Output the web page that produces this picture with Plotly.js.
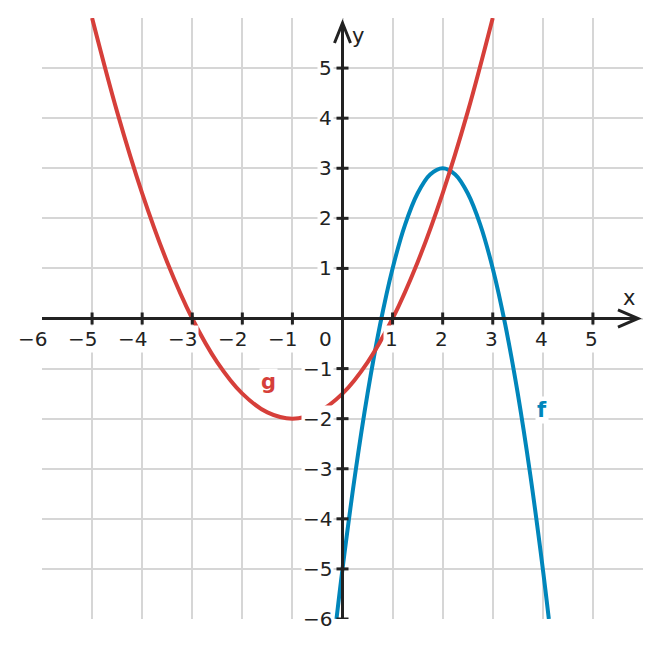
<!DOCTYPE html>
<html>
<head>
<meta charset="utf-8">
<script src="https://cdn.plot.ly/plotly-3.0.1.min.js"></script>
<style>html,body{margin:0;padding:0;background:#fff;}#chart{width:661px;height:648px;}</style>
</head>
<body>
<div id="chart"></div>
<script>
// Values
const fX = [-0.12, 0, 0.25, 0.5, 0.75, 1, 1.25, 1.5, 1.75, 2, 2.25, 2.5, 2.75, 3, 3.25, 3.5, 3.75, 4, 4.12];
const fY = [-6, -5, -3.125, -1.5, -0.125, 1, 1.875, 2.5, 2.875, 3, 2.875, 2.5, 1.875, 1, -0.125, -1.5, -3.125, -5, -6];
const gX = [-5, -4.5, -4, -3.5, -3, -2.5, -2, -1.5, -1, -0.5, 0, 0.5, 1, 1.5, 2, 2.5, 3];
const gY = [6, 4.125, 2.5, 1.125, 0, -0.875, -1.5, -1.875, -2, -1.875, -1.5, -0.875, 0, 1.125, 2.5, 4.125, 6];
const xTicks = [-6, -5, -4, -3, -2, -1, 1, 2, 3, 4, 5];
const yTicks = [-6, -5, -4, -3, -2, -1, 1, 2, 3, 4, 5];
const fLabel = {text: 'f', x: 3.98, y: -1.82};
const gLabel = {text: 'g', x: -1.48, y: -1.26};

const RED = '#d63f3a';
const BLUE = '#0086bb';
const AX = '#222222';
const FONT = 'DejaVu Sans, sans-serif';

const traces = [
  {x: fX, y: fY, mode: 'lines', line: {color: BLUE, width: 4, shape: 'spline'}, hoverinfo: 'skip'},
  {x: gX, y: gY, mode: 'lines', line: {color: RED, width: 4, shape: 'spline'}, hoverinfo: 'skip'}
];

const fmt = v => (v < 0 ? '\u2212' + Math.abs(v) : String(v));

const shapes = [
  {type: 'line', xref: 'x', yref: 'y', x0: -6, x1: 5.88, y0: 0, y1: 0, line: {color: AX, width: 3}, layer: 'above'},
  {type: 'line', xref: 'x', yref: 'y', x0: 0, x1: 0, y0: -6, y1: 5.88, line: {color: AX, width: 3}, layer: 'above'},
  {type: 'path', xref: 'x', yref: 'y', path: 'M 5.5,0.17 L 5.9,0 L 5.5,-0.17', line: {color: AX, width: 3}, layer: 'above'},
  {type: 'path', xref: 'x', yref: 'y', path: 'M -0.16,5.5 L 0,5.9 L 0.16,5.5', line: {color: AX, width: 3}, layer: 'above'}
];
xTicks.forEach(v => {
  if (v === -6) return;
  shapes.push({type: 'line', xref: 'x', yref: 'y', x0: v, x1: v, y0: -0.12, y1: 0.12, line: {color: AX, width: 3}, layer: 'above'});
});
yTicks.forEach(v => {
  shapes.push({type: 'line', xref: 'x', yref: 'y', x0: -0.12, x1: 0.12, y0: v, y1: v, line: {color: AX, width: 3}, layer: 'above'});
});

const annotations = [];
xTicks.forEach(v => {
  annotations.push({x: v, y: 0, xref: 'x', yref: 'y', text: fmt(v), showarrow: false,
    xanchor: 'right', yanchor: 'middle', xshift: 7, yshift: -20, bgcolor: '#fff', borderpad: 1,
    font: {family: FONT, size: 20, color: AX}});
});
annotations.push({x: 0, y: 0, xref: 'x', yref: 'y', text: '0', showarrow: false,
  xanchor: 'right', yanchor: 'middle', xshift: -9, yshift: -20, bgcolor: '#fff', borderpad: 1,
  font: {family: FONT, size: 20, color: AX}});
yTicks.forEach(v => {
  annotations.push({x: 0, y: v, xref: 'x', yref: 'y', text: fmt(v), showarrow: false,
    xanchor: 'right', yanchor: 'middle', xshift: -9, bgcolor: '#fff', borderpad: 1,
    font: {family: FONT, size: 20, color: AX}});
});
annotations.push({x: 5.72, y: 0.4, xref: 'x', yref: 'y', text: 'x', showarrow: false,
  xanchor: 'center', yanchor: 'middle', font: {family: FONT, size: 21, color: AX}});
annotations.push({x: 0.3, y: 5.64, xref: 'x', yref: 'y', text: 'y', showarrow: false,
  xanchor: 'center', yanchor: 'middle', font: {family: FONT, size: 21, color: AX}});
annotations.push({x: gLabel.x, y: gLabel.y, xref: 'x', yref: 'y', text: '<b>' + gLabel.text + '</b>', showarrow: false,
  xanchor: 'center', yanchor: 'middle', bgcolor: '#fff', borderpad: 1, font: {family: FONT, size: 21, color: RED}});
annotations.push({x: fLabel.x, y: fLabel.y, xref: 'x', yref: 'y', text: '<b>' + fLabel.text + '</b>', showarrow: false,
  xanchor: 'center', yanchor: 'middle', bgcolor: '#fff', borderpad: 1, font: {family: FONT, size: 21, color: BLUE}});

const layout = {
  width: 661, height: 648,
  margin: {l: 42, r: 18, t: 18, b: 29, pad: 0},
  paper_bgcolor: '#fff', plot_bgcolor: '#fff',
  showlegend: false,
  xaxis: {range: [-6, 6], dtick: 1, tick0: 0, showgrid: true, gridcolor: '#d6d6d6', gridwidth: 2,
    zeroline: false, showticklabels: false, ticks: '', showline: false, fixedrange: true},
  yaxis: {range: [-6, 6], dtick: 1, tick0: 0, showgrid: true, gridcolor: '#d6d6d6', gridwidth: 2,
    zeroline: false, showticklabels: false, ticks: '', showline: false, fixedrange: true},
  shapes: shapes,
  annotations: annotations
};

Plotly.newPlot('chart', traces, layout, {staticPlot: true, displayModeBar: false});
</script>
</body>
</html>
